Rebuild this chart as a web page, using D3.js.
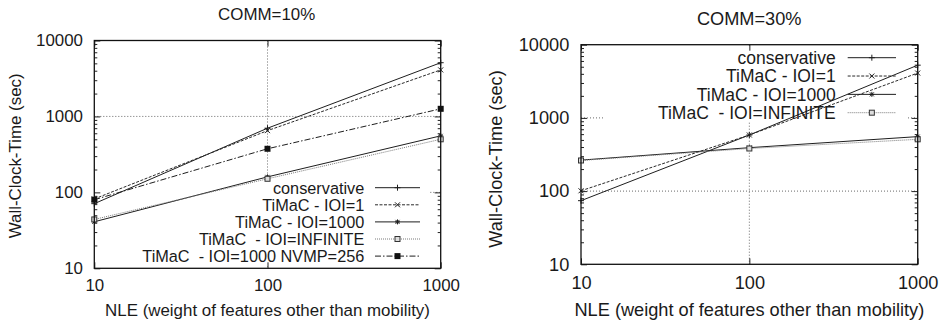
<!DOCTYPE html>
<html>
<head>
<meta charset="utf-8">
<script src="https://cdn.jsdelivr.net/npm/d3@7"></script>
<style>
  html, body { margin: 0; padding: 0; background: #fff; }
  svg { display: block; }
  text { font-family: "Liberation Sans", Arial, Helvetica, sans-serif; fill: #1a1a1a; }
</style>
</head>
<body>
<svg id="chart" width="941" height="325"></svg>
<script>
// ---------------- DATA ----------------
const nle = [10, 100, 1000];
const xTickLabels = [10, 100, 1000];
const yTickLabels = [10, 100, 1000, 10000];

const seriesNames10 = ["conservative", "TiMaC - IOI=1", "TiMaC - IOI=1000", "TiMaC  - IOI=INFINITE", "TiMaC  - IOI=1000 NVMP=256"];
const comm10_conservative = [71, 700, 5100];
const comm10_ioi1        = [82, 650, 4100];
const comm10_ioi1000     = [41, 160, 555];
const comm10_ioiInf      = [44, 151, 500];
const comm10_nvmp256     = [80, 375, 1260];

const seriesNames30 = ["conservative", "TiMaC - IOI=1", "TiMaC - IOI=1000", "TiMaC  - IOI=INFINITE"];
const comm30_conservative = [74, 584, 5250];
const comm30_ioi1        = [101, 584, 4100];
const comm30_ioi1000     = [265, 392, 555];
const comm30_ioiInf      = [262, 382, 510];

const titles = ["COMM=10%", "COMM=30%"];
const xLabel = "NLE (weight of features other than mobility)";
const yLabel = "Wall-Clock-Time (sec)";

// ---------------- STYLES ----------------
const styles = [
  { dash: null,      stroke: "#1e1e1e", marker: "plus" },
  { dash: "3,1.5",   stroke: "#2a2a2a", marker: "cross" },
  { dash: null,      stroke: "#1e1e1e", marker: "star" },
  { dash: "1,1",     stroke: "#7a7a7a", marker: "openSquare" },
  { dash: "6,2,1.5,2", stroke: "#1e1e1e", marker: "filledSquare" }
];

const svg = d3.select("#chart");

function drawMarker(g, type, cx, cy) {
  const c = "#1e1e1e";
  if (type === "plus") {
    g.append("path").attr("d", `M${cx-3},${cy}H${cx+3}M${cx},${cy-3}V${cy+3}`)
      .attr("stroke", c).attr("stroke-width", 1).attr("fill", "none");
  } else if (type === "cross") {
    g.append("path").attr("d", `M${cx-2.5},${cy-2.5}L${cx+2.5},${cy+2.5}M${cx-2.5},${cy+2.5}L${cx+2.5},${cy-2.5}`)
      .attr("stroke", c).attr("stroke-width", 1).attr("fill", "none");
  } else if (type === "star") {
    g.append("path").attr("d", `M${cx-2.5},${cy}H${cx+2.5}M${cx},${cy-2.5}V${cy+2.5}M${cx-2},${cy-2}L${cx+2},${cy+2}M${cx-2},${cy+2}L${cx+2},${cy-2}`)
      .attr("stroke", c).attr("stroke-width", 1).attr("fill", "none");
  } else if (type === "openSquare") {
    g.append("rect").attr("x", cx-2.5).attr("y", cy-2.5).attr("width", 5).attr("height", 5)
      .attr("fill", "#ddd").attr("stroke", "#333").attr("stroke-width", 1);
  } else if (type === "filledSquare") {
    g.append("rect").attr("x", cx-3).attr("y", cy-3).attr("width", 6).attr("height", 6)
      .attr("fill", "#111");
  }
}

function panel(cfg) {
  const { x0, x1, yTop, yBot, fs, lfs, title, titleX, titleY, ylabX, ylabY, xlabY,
          xPad, yPad, series, names, legend } = cfg;
  const g = svg.append("g");
  const x = d3.scaleLog().domain([10, 1000]).range([x0, x1]);
  const y = d3.scaleLog().domain([10, 10000]).range([yBot, yTop]);

  // grid (dotted)
  const grid = g.append("g").attr("stroke", "#444").attr("stroke-width", 0.8)
    .attr("stroke-dasharray", "1,2").attr("fill", "none");
  grid.append("line").attr("x1", x(100)).attr("x2", x(100)).attr("y1", yTop).attr("y2", yBot);
  [100, 1000].forEach(v => grid.append("line").attr("x1", x0).attr("x2", x1).attr("y1", y(v)).attr("y2", y(v)));

  // legend opaque background
  g.append("rect").attr("x", legend.bx0).attr("y", legend.by0)
    .attr("width", legend.bx1 - legend.bx0).attr("height", legend.by1 - legend.by0).attr("fill", "#fff");

  // axes: major ticks and labels
  const minorY = [];
  [10, 100, 1000].forEach(d => { for (let k = 2; k <= 9; k++) minorY.push(d * k); });

  const axL = g.append("g").attr("transform", `translate(${x0},0)`)
    .call(d3.axisLeft(y).tickValues(yTickLabels).tickFormat(d3.format("d")).tickSize(-6).tickPadding(yPad));
  const axLm = g.append("g").attr("transform", `translate(${x0},0)`)
    .call(d3.axisLeft(y).tickValues(minorY).tickFormat("").tickSize(-3));
  const axR = g.append("g").attr("transform", `translate(${x1},0)`)
    .call(d3.axisRight(y).tickValues(yTickLabels).tickFormat("").tickSize(-6));
  const axRm = g.append("g").attr("transform", `translate(${x1},0)`)
    .call(d3.axisRight(y).tickValues(minorY).tickFormat("").tickSize(-3));
  const axB = g.append("g").attr("transform", `translate(0,${yBot})`)
    .call(d3.axisBottom(x).tickValues(xTickLabels).tickFormat(d3.format("d")).tickSize(-6).tickPadding(xPad));
  const axT = g.append("g").attr("transform", `translate(0,${yTop})`)
    .call(d3.axisTop(x).tickValues(xTickLabels).tickFormat("").tickSize(-6));
  [axL, axLm, axR, axRm, axB, axT].forEach(a => {
    a.select(".domain").remove();
    a.selectAll("line").attr("stroke", "#222").attr("stroke-width", 1);
    a.selectAll("text").style("font-size", fs + "px").attr("fill", "#1a1a1a")
      .style("font-family", "'Liberation Sans', Arial, sans-serif");
  });

  // series lines
  const line = d3.line().x((d, i) => x(nle[i])).y(d => y(d));
  series.forEach((vals, si) => {
    const st = styles[si];
    g.append("path").datum(vals).attr("d", line).attr("fill", "none")
      .attr("stroke", st.stroke).attr("stroke-width", 1)
      .attr("stroke-dasharray", st.dash);
  });
  series.forEach((vals, si) => {
    vals.forEach((v, i) => drawMarker(g, styles[si].marker, x(nle[i]), y(v)));
  });

  // legend entries
  names.forEach((nm, i) => {
    const ly = legend.y0 + i * legend.dy;
    g.append("text").attr("x", legend.tx).attr("y", ly + lfs * 0.36).attr("text-anchor", "end")
      .style("font-size", lfs + "px").style("white-space", "pre").text(nm);
    g.append("line").attr("x1", legend.sx0).attr("x2", legend.sx1).attr("y1", ly).attr("y2", ly)
      .attr("stroke", styles[i].stroke).attr("stroke-width", 1).attr("stroke-dasharray", styles[i].dash);
    drawMarker(g, styles[i].marker, (legend.sx0 + legend.sx1) / 2, ly);
  });

  // border
  g.append("rect").attr("x", x0).attr("y", yTop).attr("width", x1 - x0).attr("height", yBot - yTop)
    .attr("fill", "none").attr("stroke", "#111").attr("stroke-width", 1.3);

  // titles and labels
  g.append("text").attr("x", titleX).attr("y", titleY).attr("text-anchor", "middle")
    .style("font-size", fs + "px").text(title);
  g.append("text").attr("x", (x0 + x1) / 2).attr("y", xlabY).attr("text-anchor", "middle")
    .style("font-size", fs + "px").text(xLabel);
  g.append("text").attr("transform", `translate(${ylabX},${ylabY}) rotate(-90)`).attr("text-anchor", "middle")
    .style("font-size", fs + "px").text(yLabel);
}

panel({
  x0: 94.3, x1: 440.7, yTop: 40.5, yBot: 268.3, fs: 16.9, lfs: 16.3,
  title: titles[0], titleX: 266.7, titleY: 20,
  ylabX: 21, ylabY: 155.8, xlabY: 315.5, xPad: 10.5, yPad: 11.3,
  series: [comm10_conservative, comm10_ioi1, comm10_ioi1000, comm10_ioiInf, comm10_nvmp256],
  names: seriesNames10,
  legend: { bx0: 95, bx1: 430, by0: 178, by1: 266, tx: 364.3, sx0: 375, sx1: 420, y0: 187.7, dy: 17.1 }
});

panel({
  x0: 581, x1: 917.7, yTop: 44.7, yBot: 264.3, fs: 18.2, lfs: 17.5,
  title: titles[1], titleX: 749.2, titleY: 25,
  ylabX: 501.5, ylabY: 159, xlabY: 316, xPad: 11.3, yPad: 11.7,
  series: [comm30_conservative, comm30_ioi1, comm30_ioi1000, comm30_ioiInf],
  names: seriesNames30,
  legend: { bx0: 603, bx1: 907, by0: 46, by1: 122, tx: 835.7, sx0: 847.7, sx1: 896, y0: 57.7, dy: 18.33 }
});
</script>
</body>
</html>
